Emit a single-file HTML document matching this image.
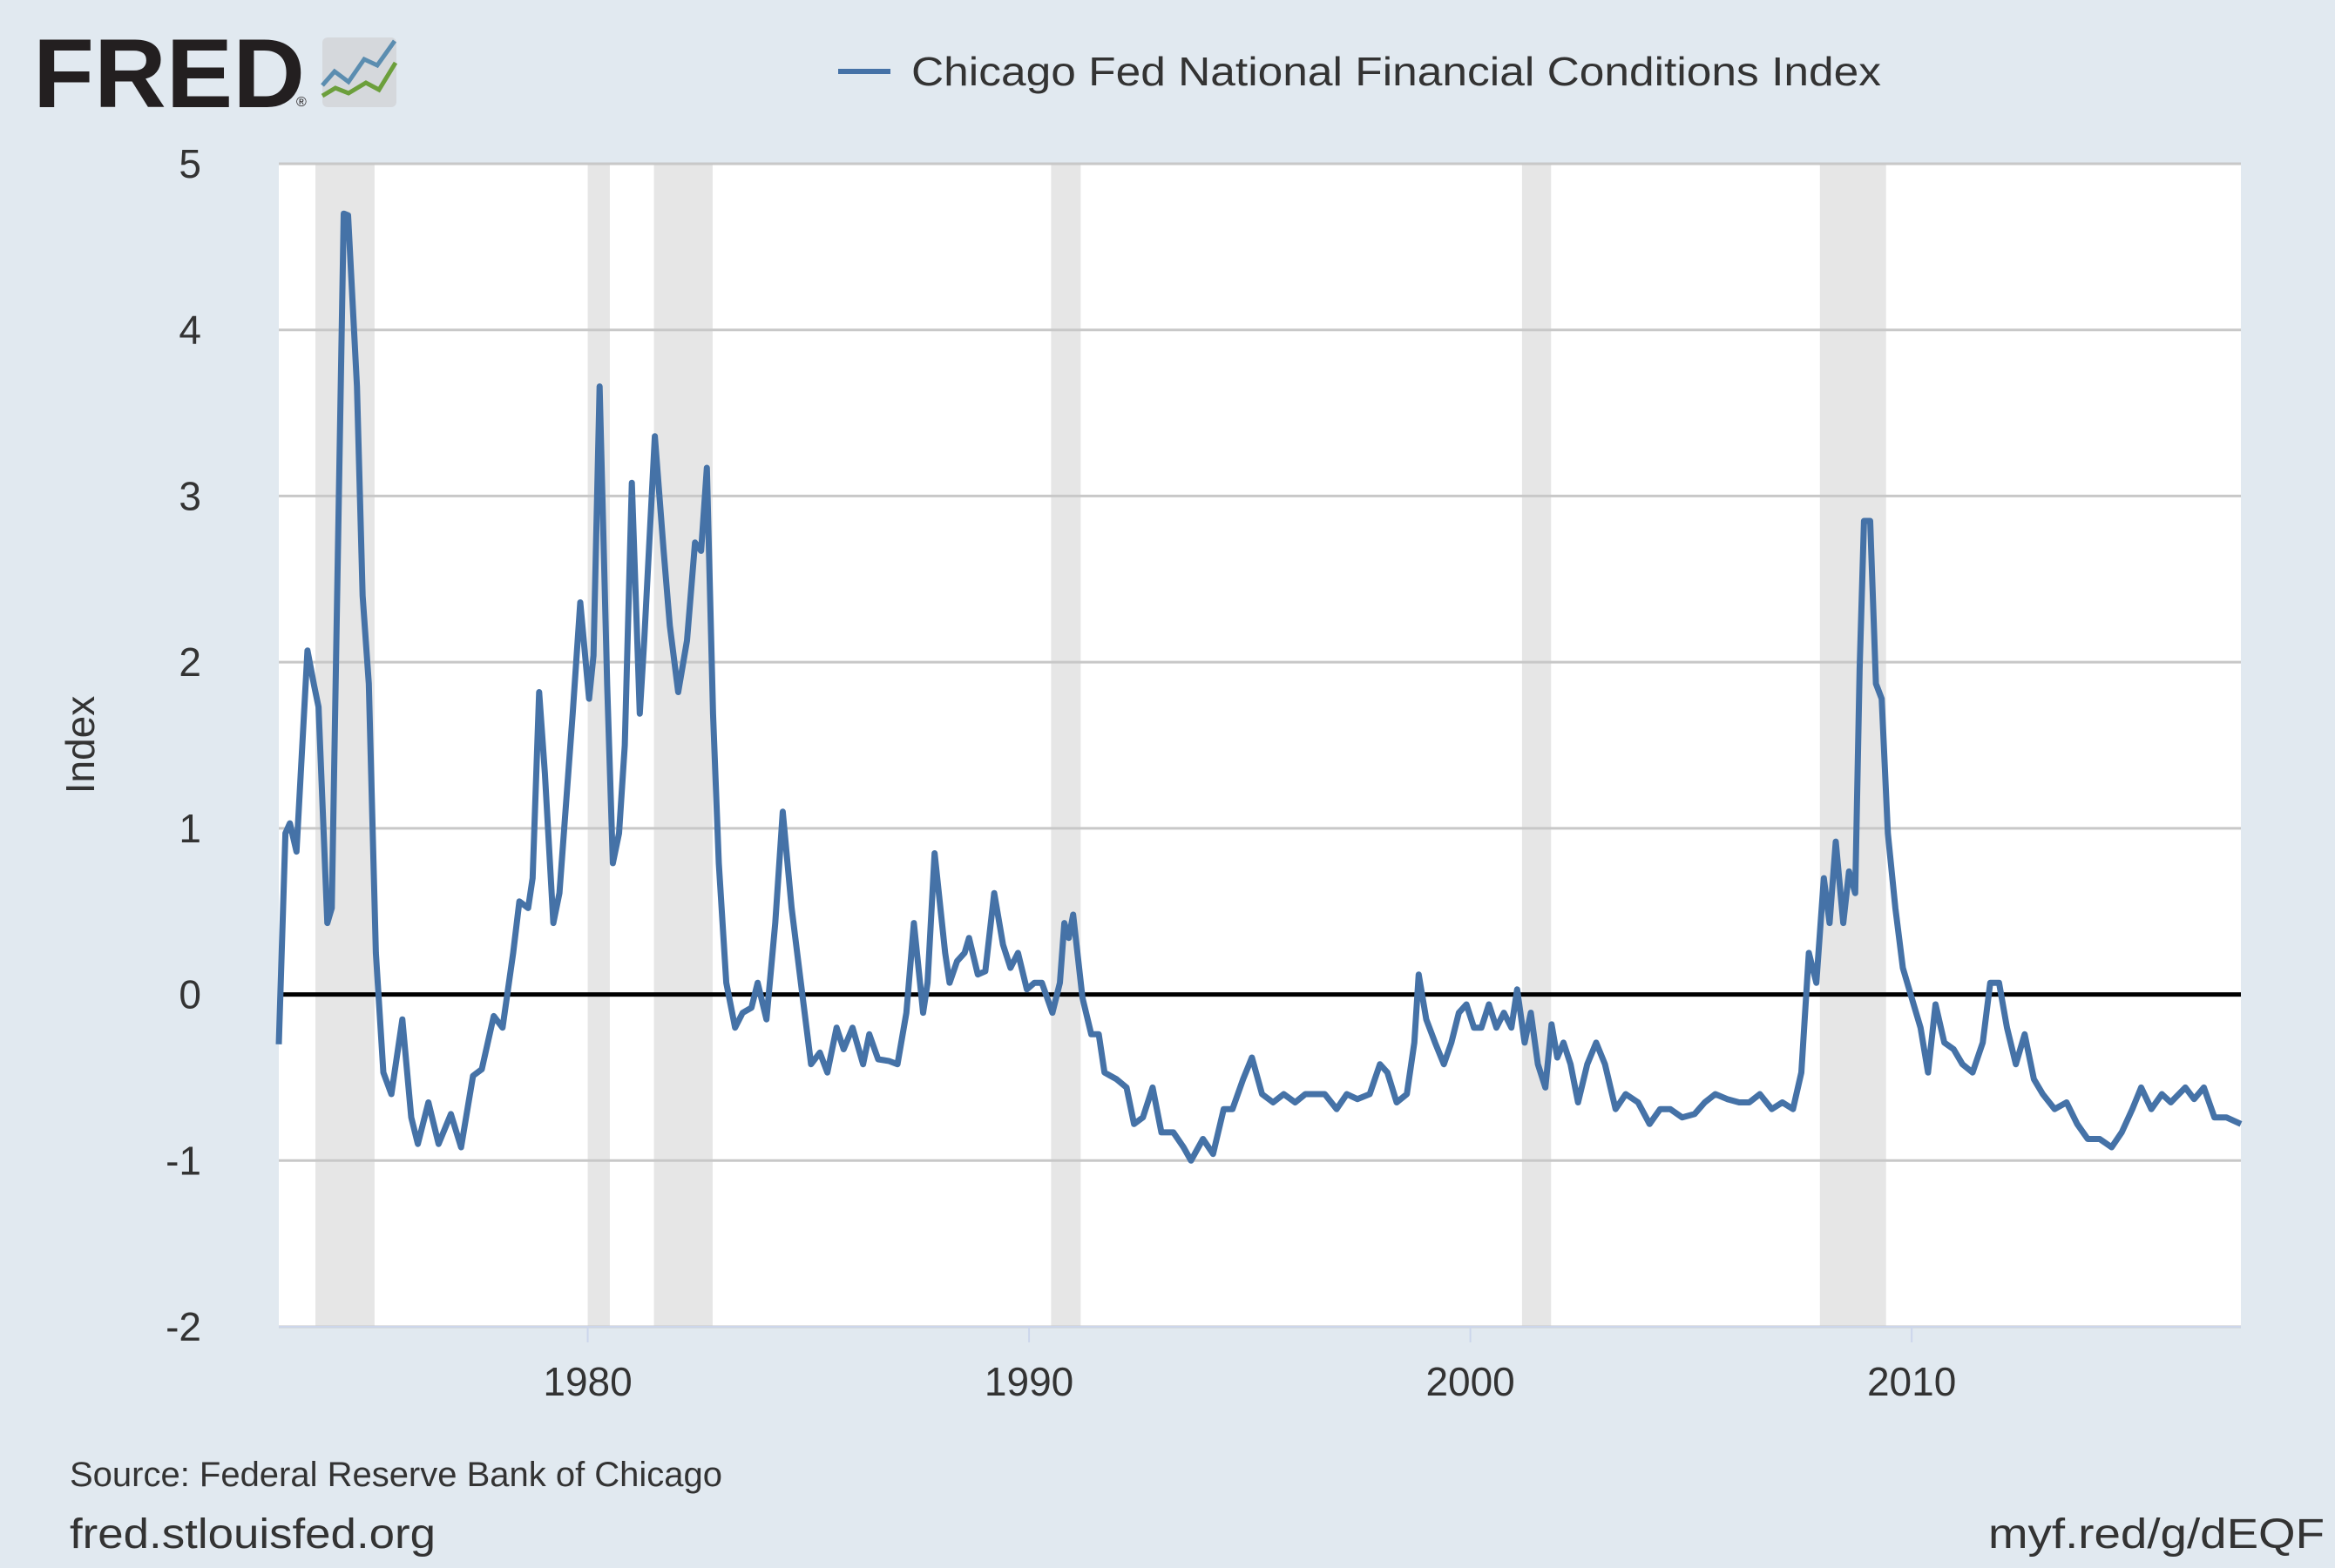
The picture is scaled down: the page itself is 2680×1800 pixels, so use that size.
<!DOCTYPE html>
<html><head><meta charset="utf-8"><style>
html,body{margin:0;padding:0;background:#e1e9f0;}
svg{display:block;font-family:"Liberation Sans",sans-serif;}
</style></head><body>
<svg id="chart" width="2680" height="1800" viewBox="0 0 2680 1800">
<rect x="0" y="0" width="2680" height="1800" fill="#e1e9f0"/>
<g>
<text x="38" y="123" font-size="112" font-weight="bold" fill="#231f20" textLength="312" lengthAdjust="spacingAndGlyphs">FRED</text>
<text x="340" y="122" font-size="16" fill="#231f20">®</text>
<rect x="370" y="43" width="85" height="80" rx="6" fill="#d5d8dc"/>
<polyline points="370,98 384,82 400,94 418,68 433,75 453,47" fill="none" stroke="#5b8db0" stroke-width="5"/>
<polyline points="370,110 385,101 400,107 420,95 435,103 454,72" fill="none" stroke="#6c9f3c" stroke-width="5"/>
</g>
<g>
<line x1="962" y1="82" x2="1022" y2="82" stroke="#4572a7" stroke-width="6"/>
<text x="1046" y="98" font-size="46" fill="#333" textLength="1113" lengthAdjust="spacingAndGlyphs">Chicago Fed National Financial Conditions Index</text>
</g>
<rect x="320" y="188" width="2252" height="1335" fill="#ffffff"/>
<g id="rec"></g><g id="grid"></g><g id="yt"></g><g id="xt"></g>
<line x1="320" y1="1523" x2="2572" y2="1523" stroke="#ccd6eb" stroke-width="2"/>
<g id="zero"></g>
<path id="series" fill="none" stroke="#4572a7" stroke-width="7" stroke-linejoin="round"/>
<text x="0" y="0" transform="translate(108,855) rotate(-90)" text-anchor="middle" font-size="46" fill="#333">Index</text>
<text x="80" y="1706" font-size="40" fill="#333" textLength="749" lengthAdjust="spacingAndGlyphs">Source: Federal Reserve Bank of Chicago</text>
<text x="80" y="1777" font-size="48" fill="#333" textLength="420" lengthAdjust="spacingAndGlyphs">fred.stlouisfed.org</text>
<text x="2282" y="1777" font-size="48" fill="#333" textLength="386" lengthAdjust="spacingAndGlyphs">myf.red/g/dEQF</text>
</svg>
<script>
const yTicks=[5,4,3,2,1,0,-1,-2];
const yTickLabels=["5","4","3","2","1","0","-1","-2"];
const xTicks=[1980,1990,2000,2010];
const xTickLabels=["1980","1990","2000","2010"];
const recStart=[1973.83,1980.0,1981.5,1990.5,2001.17,2007.92];
const recEnd=[1975.17,1980.5,1982.83,1991.17,2001.83,2009.42];
const years=[1973.0,1973.15,1973.25,1973.4,1973.65,1973.8,1973.9,1974.1,1974.2,1974.47,1974.57,1974.77,1974.9,1975.04,1975.2,1975.37,1975.55,1975.8,1976.0,1976.15,1976.39,1976.62,1976.9,1977.13,1977.4,1977.6,1977.87,1978.07,1978.31,1978.45,1978.65,1978.75,1978.9,1979.03,1979.22,1979.36,1979.66,1979.83,1980.03,1980.13,1980.27,1980.44,1980.57,1980.71,1980.84,1981.0,1981.18,1981.28,1981.52,1981.72,1981.86,1982.05,1982.25,1982.43,1982.57,1982.7,1982.84,1982.97,1983.14,1983.34,1983.51,1983.71,1983.85,1984.05,1984.25,1984.42,1984.62,1984.83,1985.06,1985.26,1985.43,1985.64,1985.8,1986.0,1986.24,1986.38,1986.58,1986.82,1987.02,1987.22,1987.39,1987.6,1987.7,1987.86,1988.1,1988.2,1988.37,1988.54,1988.64,1988.84,1989.01,1989.21,1989.41,1989.58,1989.75,1989.95,1990.12,1990.29,1990.53,1990.7,1990.8,1990.9,1991.0,1991.21,1991.41,1991.58,1991.71,1991.98,1992.21,1992.38,1992.58,1992.8,1993.0,1993.27,1993.5,1993.67,1993.94,1994.17,1994.41,1994.61,1994.85,1995.05,1995.28,1995.53,1995.77,1996.03,1996.26,1996.46,1996.7,1996.97,1997.2,1997.44,1997.72,1997.95,1998.12,1998.33,1998.56,1998.73,1998.83,1999.0,1999.2,1999.4,1999.57,1999.74,1999.91,2000.08,2000.25,2000.42,2000.59,2000.76,2000.93,2001.06,2001.23,2001.37,2001.53,2001.7,2001.84,2001.97,2002.11,2002.27,2002.44,2002.65,2002.85,2003.05,2003.29,2003.52,2003.8,2004.06,2004.3,2004.53,2004.8,2005.08,2005.31,2005.55,2005.82,2006.09,2006.32,2006.56,2006.83,2007.07,2007.31,2007.5,2007.67,2007.84,2008.01,2008.14,2008.28,2008.45,2008.58,2008.72,2008.82,2008.92,2009.06,2009.19,2009.32,2009.46,2009.63,2009.8,2010.0,2010.2,2010.37,2010.54,2010.74,2010.95,2011.15,2011.38,2011.61,2011.78,2011.98,2012.16,2012.36,2012.56,2012.77,2012.97,2013.24,2013.51,2013.75,2013.99,2014.26,2014.53,2014.76,2015.0,2015.2,2015.43,2015.67,2015.87,2016.2,2016.4,2016.62,2016.86,2017.13,2017.46];
const values=[-0.3,0.97,1.03,0.86,2.07,1.86,1.73,0.43,0.52,4.7,4.69,3.66,2.4,1.87,0.25,-0.47,-0.6,-0.15,-0.74,-0.9,-0.65,-0.9,-0.72,-0.92,-0.49,-0.45,-0.13,-0.2,0.25,0.56,0.52,0.7,1.82,1.33,0.43,0.61,1.69,2.36,1.78,2.04,3.66,1.86,0.79,0.97,1.5,3.08,1.69,2.13,3.36,2.67,2.22,1.82,2.13,2.72,2.67,3.17,1.69,0.79,0.07,-0.2,-0.11,-0.08,0.07,-0.15,0.43,1.1,0.52,0.07,-0.42,-0.35,-0.47,-0.2,-0.33,-0.2,-0.42,-0.24,-0.39,-0.4,-0.42,-0.11,0.43,-0.11,0.07,0.85,0.25,0.07,0.2,0.25,0.34,0.12,0.14,0.61,0.3,0.16,0.25,0.03,0.07,0.07,-0.11,0.07,0.43,0.34,0.48,-0.02,-0.24,-0.24,-0.47,-0.51,-0.56,-0.78,-0.74,-0.56,-0.83,-0.83,-0.92,-1.0,-0.87,-0.96,-0.69,-0.69,-0.51,-0.38,-0.6,-0.65,-0.6,-0.65,-0.6,-0.6,-0.6,-0.69,-0.6,-0.63,-0.6,-0.42,-0.47,-0.65,-0.6,-0.29,0.12,-0.15,-0.29,-0.42,-0.29,-0.11,-0.06,-0.2,-0.2,-0.06,-0.2,-0.11,-0.2,0.03,-0.29,-0.11,-0.42,-0.56,-0.18,-0.38,-0.29,-0.42,-0.65,-0.42,-0.29,-0.42,-0.69,-0.6,-0.65,-0.78,-0.69,-0.69,-0.74,-0.72,-0.65,-0.6,-0.63,-0.65,-0.65,-0.6,-0.69,-0.65,-0.69,-0.47,0.25,0.07,0.7,0.43,0.92,0.43,0.74,0.61,1.96,2.85,2.85,1.87,1.78,0.97,0.52,0.16,-0.02,-0.2,-0.47,-0.06,-0.29,-0.33,-0.42,-0.47,-0.29,0.07,0.07,-0.2,-0.42,-0.24,-0.51,-0.6,-0.69,-0.65,-0.78,-0.87,-0.87,-0.92,-0.83,-0.69,-0.56,-0.69,-0.6,-0.65,-0.56,-0.63,-0.56,-0.74,-0.74,-0.78];
const L=320,R=2572,T=188,B=1523,X0=1973.0,X1=2017.46,Y0=-2,Y1=5;
function xs(v){return L+(v-X0)/(X1-X0)*(R-L);}
function ys(v){return B-(v-Y0)/(Y1-Y0)*(B-T);}
const NS="http://www.w3.org/2000/svg";
const rec=document.getElementById('rec');
for(let i=0;i<recStart.length;i++){const r=document.createElementNS(NS,'rect');
r.setAttribute('x',xs(recStart[i]));r.setAttribute('y',T);r.setAttribute('width',xs(recEnd[i])-xs(recStart[i]));r.setAttribute('height',B-T);r.setAttribute('fill','#e6e6e6');


rec.appendChild(r);}
const grid=document.getElementById('grid'),yt=document.getElementById('yt');
for(let i=0;i<yTicks.length;i++){const y=ys(yTicks[i]);
const l=document.createElementNS(NS,'line');l.setAttribute('x1',L);l.setAttribute('x2',R);l.setAttribute('y1',y);l.setAttribute('y2',y);l.setAttribute('stroke','#c8c8c8');l.setAttribute('stroke-width','3');


grid.appendChild(l);
const t=document.createElementNS(NS,'text');t.setAttribute('x',231);t.setAttribute('y',y+16);t.setAttribute('text-anchor','end');t.setAttribute('font-size','46');t.setAttribute('fill','#333');t.textContent=yTickLabels[i];


yt.appendChild(t);}
const xt=document.getElementById('xt');
for(let i=0;i<xTicks.length;i++){const x=xs(xTicks[i]);
const l=document.createElementNS(NS,'line');l.setAttribute('x1',x);l.setAttribute('x2',x);l.setAttribute('y1',B);l.setAttribute('y2',B+18);l.setAttribute('stroke','#ccd6eb');l.setAttribute('stroke-width','2');


xt.appendChild(l);
const t=document.createElementNS(NS,'text');t.setAttribute('x',x);t.setAttribute('y',1602);t.setAttribute('text-anchor','middle');t.setAttribute('font-size','46');t.setAttribute('fill','#333');t.textContent=xTickLabels[i];


xt.appendChild(t);}
const z=document.createElementNS(NS,'line');z.setAttribute('x1',L);z.setAttribute('x2',R);z.setAttribute('y1',ys(0));z.setAttribute('y2',ys(0));z.setAttribute('stroke','#000');z.setAttribute('stroke-width','5');


document.getElementById('zero').appendChild(z);
let d='';for(let i=0;i<years.length;i++){d+=(i?'L':'M')+xs(years[i]).toFixed(1)+','+ys(values[i]).toFixed(1);}
document.getElementById('series').setAttribute('d',d);
</script>
</body></html>
